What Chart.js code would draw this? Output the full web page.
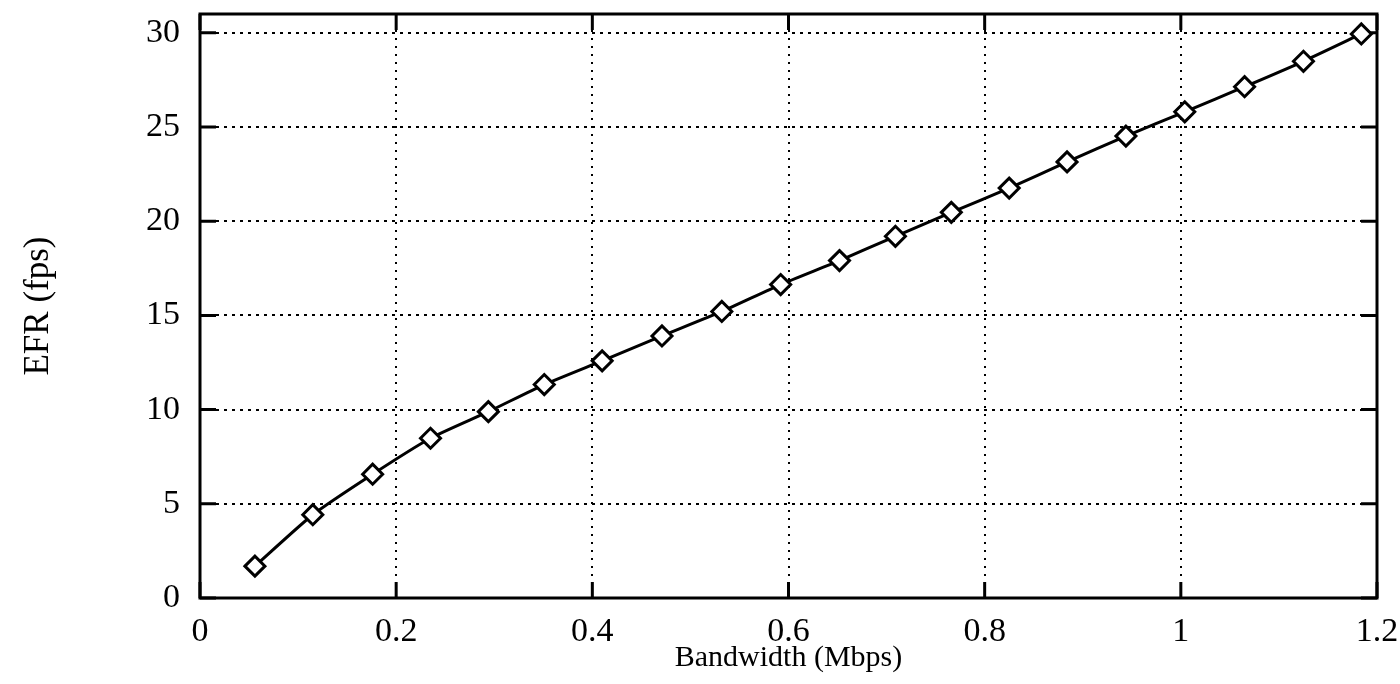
<!DOCTYPE html>
<html>
<head>
<meta charset="utf-8">
<script src="https://cdn.jsdelivr.net/npm/chart.js@4.4.1/dist/chart.umd.min.js"></script>
<style>
  body { margin:0; background:#fff; }
  #wrap { width:1400px; height:684px; }
</style>
</head>
<body>
<div id="wrap"><canvas id="gp" width="1400" height="684"></canvas></div>
<script>
const ctx = document.getElementById("gp");

// bandwidth (Mbps) of each measured point
const bandwidth = [0.056,0.115,0.176,0.235,0.294,0.351,0.410,0.471,0.532,0.592,
                   0.652,0.709,0.766,0.825,0.884,0.944,1.004,1.065,1.125,1.184];
// effective frame rate (fps)
const efr = [1.69,4.42,6.57,8.48,9.89,11.33,12.59,13.91,15.21,16.64,
             17.91,19.20,20.47,21.76,23.15,24.52,25.81,27.14,28.49,29.94];

const xTicks = [0,0.2,0.4,0.6,0.8,1,1.2];
const yTicks = [0,5,10,15,20,25,30];

const serif = "'Liberation Serif', 'Times New Roman', serif";

// plot frame + inward tick marks (gnuplot style)
const frame = {
  id: "frame",
  beforeDatasetsDraw(chart) {
    const {ctx, chartArea: a, scales} = chart;
    const len = 16;
    ctx.save();
    ctx.strokeStyle = "#000";
    ctx.lineWidth = 3;
    ctx.strokeRect(a.left, a.top, a.right - a.left, a.bottom - a.top);
    ctx.beginPath();
    yTicks.forEach(v => {
      const y = scales.y.getPixelForValue(v);
      ctx.moveTo(a.left, y); ctx.lineTo(a.left + len, y);
      ctx.moveTo(a.right, y); ctx.lineTo(a.right - len, y);
    });
    xTicks.forEach(v => {
      const x = scales.x.getPixelForValue(v);
      ctx.moveTo(x, a.bottom); ctx.lineTo(x, a.bottom - len);
      ctx.moveTo(x, a.top); ctx.lineTo(x, a.top + len);
    });
    ctx.stroke();
    ctx.restore();
  }
};

new Chart(ctx, {
  type: "line",
  data: {
    datasets: [{
      label: "EFR",
      data: bandwidth.map((b, i) => ({x: b, y: efr[i]})),
      borderColor: "#000",
      borderWidth: 3,
      tension: 0.2,
      pointStyle: "rectRot",
      pointRadius: 10,
      pointBorderWidth: 3,
      pointBorderColor: "#000",
      pointBackgroundColor: "#fff",
    }]
  },
  options: {
    responsive: false,
    animation: false,
    layout: { padding: { top: 14, right: 23, left: 0, bottom: 0 } },
    plugins: { legend: { display: false }, tooltip: { enabled: false } },
    scales: {
      x: {
        type: "linear",
        min: 0, max: 1.2,
        afterBuildTicks: s => { s.ticks = xTicks.map(v => ({value: v})); },
        afterFit: s => { s.height = 86; s.paddingLeft = 0; s.paddingRight = 0; },
        grid: { color: "#000", lineWidth: 2, drawTicks: false },
        border: { display: false, dash: [2,6] },
        ticks: {
          color: "#000", padding: 14, maxRotation: 0,
          font: { family: serif, size: 34 },
          callback: v => String(+v.toFixed(1)),
        },
        title: {
          display: true, text: "Bandwidth (Mbps)", color: "#000",
          font: { family: serif, size: 30 }, padding: { top: 0, bottom: 8 },
        },
      },
      y: {
        type: "linear",
        min: 0, max: 31,
        afterBuildTicks: s => { s.ticks = yTicks.map(v => ({value: v})); },
        afterFit: s => { s.width = 200; s.paddingTop = 0; s.paddingBottom = 0; },
        grid: { color: "#000", lineWidth: 2, drawTicks: false },
        border: { display: false, dash: [3,5] },
        ticks: {
          color: "#000", padding: 20,
          font: { family: serif, size: 34 },
        },
        title: {
          display: true, text: "EFR (fps)", color: "#000",
          font: { family: serif, size: 35 }, padding: { top: 18, bottom: 0 },
        },
      },
    },
  },
  plugins: [frame],
});
</script>
</body>
</html>
